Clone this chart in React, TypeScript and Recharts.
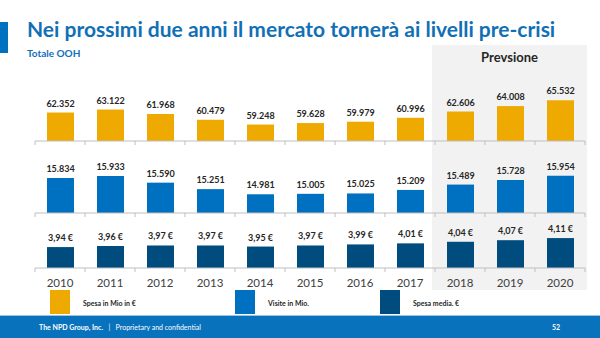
import React from "react"
import { BarChart, Bar, XAxis, YAxis, LabelList } from "recharts"

const years = ["2010", "2011", "2012", "2013", "2014", "2015", "2016", "2017", "2018", "2019", "2020"]
const forecastYears = ["2018", "2019", "2020"]
const spesa = [62.352, 63.122, 61.968, 60.479, 59.248, 59.628, 59.979, 60.996, 62.606, 64.008, 65.532]
const visite = [15.834, 15.933, 15.59, 15.251, 14.981, 15.005, 15.025, 15.209, 15.489, 15.728, 15.954]
const spesaMedia = [3.94, 3.96, 3.97, 3.97, 3.95, 3.97, 3.99, 4.01, 4.04, 4.07, 4.11]
const seriesNames = ["Spesa in Mio in €", "Visite in Mio.", "Spesa media. €"]

const ORANGE = "#EEAA00"
const BLUE = "#0070C0"
const NAVY = "#004C7F"
const FONT = "Lato, 'Liberation Sans', sans-serif"

const W = 600
const PLOT_LEFT = 35
const PLOT_RIGHT = 15
const BAND = (W - PLOT_LEFT - PLOT_RIGHT) / years.length
const LABEL_SPACE = 20

const rows = years.map((year, i) => ({
  year,
  spesa: spesa[i],
  visite: visite[i],
  media: spesaMedia[i],
}))

const fmtThousands = (v: number) => v.toFixed(3)
const fmtEuro = (v: number) => `${v.toFixed(2).replace(".", ",")} €`

function BandTick(props: any) {
  const { x, y, payload, index, showLabel } = props
  const i = index ?? payload?.index ?? 0
  const half = BAND / 2
  return (
    <g>
      <line x1={x - half} x2={x - half} y1={y} y2={y + 4} stroke="#BFBFBF" />
      {i === years.length - 1 && <line x1={x + half} x2={x + half} y1={y} y2={y + 4} stroke="#BFBFBF" />}
      {showLabel && (
        <text x={x} y={y + 19} textAnchor="middle" fill="#404040" fontSize={11.5} fontFamily={FONT}>
          {payload.value}
        </text>
      )}
    </g>
  )
}

// plain text label so values don't wrap to the bar width
function ValueLabel(props: any) {
  const { x, y, width, value, fmt } = props
  return (
    <text x={x + width / 2} y={y - 6} textAnchor="middle" fill="#262626" fontSize={9} fontWeight="bold" fontFamily={FONT}>
      {fmt(Number(value))}
    </text>
  )
}

interface RowProps {
  dataKey: string
  color: string
  domain: [number, number]
  plotH: number
  axisY: number
  showYears?: boolean
  fmt: (v: number) => string
}

function RowChart({ dataKey, color, domain, plotH, axisY, showYears, fmt }: RowProps) {
  const axisH = showYears ? 25 : 6
  const h = LABEL_SPACE + plotH + axisH
  return (
    <div style={{ position: "absolute", left: 0, top: axisY - plotH - LABEL_SPACE }}>
      <BarChart
        width={W}
        height={h}
        data={rows}
        margin={{ top: LABEL_SPACE, right: PLOT_RIGHT, left: PLOT_LEFT, bottom: 0 }}
      >
        <XAxis
          dataKey="year"
          interval={0}
          height={axisH}
          tickSize={0}
          tickMargin={0}
          axisLine={{ stroke: "#BFBFBF" }}
          tickLine={false}
          tick={<BandTick showLabel={showYears} />}
        />
        <YAxis hide domain={domain} allowDataOverflow />
        <Bar dataKey={dataKey} fill={color} barSize={27} isAnimationActive={false}>
          <LabelList dataKey={dataKey} content={<ValueLabel fmt={fmt} />} />
        </Bar>
      </BarChart>
    </div>
  )
}

export default function App() {
  const firstForecast = years.indexOf(forecastYears[0])
  const shadeLeft = PLOT_LEFT + BAND * firstForecast - 3
  const shadeWidth = BAND * forecastYears.length + 5
  const legendColors = [ORANGE, BLUE, NAVY]
  const legendX = [50, 235, 380]
  return (
    <div style={{ position: "absolute", left: 0, top: 0, width: W, height: 338, background: "#fff", overflow: "hidden", fontFamily: FONT }}>
      <div style={{ position: "absolute", left: shadeLeft, top: 45, width: shadeWidth, height: 245, background: "#F2F2F2" }} />
      <RowChart dataKey="spesa" color={ORANGE} domain={[55, 67.9]} plotH={50} axisY={141} fmt={fmtThousands} />
      <RowChart dataKey="visite" color={BLUE} domain={[14, 16.62]} plotH={50} axisY={213} fmt={fmtThousands} />
      <RowChart dataKey="media" color={NAVY} domain={[3.545, 4.3]} plotH={40} axisY={268} showYears fmt={fmtEuro} />
      <svg width={W} height={338} style={{ position: "absolute", left: 0, top: 0, pointerEvents: "none" }}>
        <rect x={0} y={22} width={8} height={31} fill={BLUE} />
        <text x={27} y={37} fill="#1170B5" fontSize={21} fontWeight="bold" fontFamily={FONT}>
          Nei prossimi due anni il mercato tornerà ai livelli pre-crisi
        </text>
        <text x={27} y={57} fill="#1170B5" fontSize={10} fontWeight="bold" fontFamily={FONT}>
          Totale OOH
        </text>
        <text x={shadeLeft + shadeWidth / 2} y={62} textAnchor="middle" fill="#262626" fontSize={13} fontWeight="bold" fontFamily={FONT}>
          Prevsione
        </text>
        {seriesNames.map((name, i) => (
          <g key={name}>
            <rect x={legendX[i]} y={290} width={20} height={24} fill={legendColors[i]} />
            <text x={legendX[i] + 33} y={306} fill="#262626" fontSize={7} fontWeight="bold" fontFamily={FONT}>
              {name}
            </text>
          </g>
        ))}
        <rect x={0} y={315} width={W} height={1} fill="#9DC3E6" />
        <rect x={0} y={316} width={W} height={22} fill="#0872BC" />
        <text x={39} y={330} fill="#fff" fontSize={7} fontFamily={FONT} style={{ whiteSpace: "pre" }}>
          <tspan fontWeight="bold">The NPD Group, Inc.</tspan>
          <tspan>{"   |   Proprietary and confidential"}</tspan>
        </text>
        <text x={552} y={330} fill="#fff" fontSize={7} fontWeight="bold" fontFamily={FONT}>
          52
        </text>
      </svg>
    </div>
  )
}
